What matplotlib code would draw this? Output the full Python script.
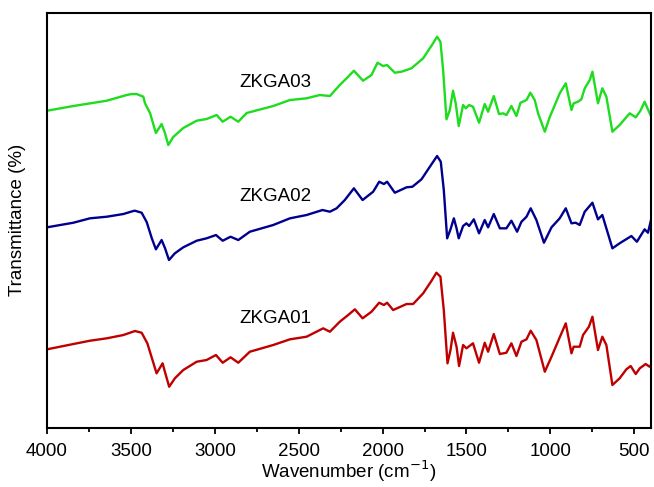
import matplotlib
matplotlib.use("Agg")
import matplotlib.pyplot as plt
from matplotlib.ticker import MultipleLocator

plt.rcParams['font.family'] = ['Liberation Sans', 'DejaVu Sans']

# FTIR spectra (wavenumber in cm^-1, transmittance in offset arbitrary units)
wn_zkga03 = [4000, 3843, 3644, 3525, 3495, 3466, 3426, 3416, 3386, 3351, 3317, 3297,
             3277, 3248, 3188, 3108, 3049, 2989, 2953, 2906, 2860, 2810, 2652, 2552,
             2453, 2374, 2314, 2255, 2205, 2171, 2116, 2066, 2030, 1997, 1973, 1927,
             1887, 1828, 1758, 1699, 1675, 1655, 1639, 1619, 1599, 1580, 1564, 1546,
             1520, 1504, 1484, 1461, 1425, 1391, 1371, 1337, 1306, 1282, 1262, 1232,
             1202, 1178, 1142, 1119, 1093, 1073, 1033, 1004, 944, 908, 874, 861, 835,
             815, 795, 765, 749, 716, 690, 666, 630, 587, 527, 491, 463, 438, 412, 400]
t_zkga03 = [317.3, 322, 327.3, 333, 334, 334, 331.3, 324.7, 315, 295, 304, 295,
            283, 291, 300, 307.3, 309, 313, 306.3, 311.3, 306.3, 315, 322, 328,
            329.7, 333, 332, 343, 351.3, 357.3, 347.3, 353, 365.3, 362, 363, 355.3,
            356.3, 359.7, 369.7, 384.7, 391.3, 386.3, 358, 308.7, 318, 337.3, 324.7, 302,
            323, 319.7, 323, 321.3, 305.3, 324, 316.3, 332, 314, 314.7, 313, 322,
            312, 325.3, 328, 335.3, 328, 314.7, 296.3, 310.7, 334.7, 344.7, 318, 324.7, 326.3,
            328.7, 339.7, 348, 356.3, 324.7, 339.7, 331.3, 296.3, 303, 314.7, 310.7, 317.3,
            326.3, 316.3, 312]

wn_zkga02 = [4000, 3843, 3744, 3644, 3545, 3486, 3476, 3436, 3406, 3376, 3351, 3317,
             3297, 3273, 3238, 3188, 3108, 3049, 2993, 2953, 2906, 2860, 2791, 2652,
             2552, 2453, 2358, 2314, 2274, 2225, 2171, 2119, 2056, 2020, 1992, 1973,
             1927, 1857, 1822, 1768, 1718, 1675, 1653, 1635, 1615, 1595, 1575, 1559,
             1546, 1520, 1500, 1484, 1456, 1425, 1391, 1371, 1337, 1301, 1262, 1232,
             1198, 1172, 1142, 1117, 1083, 1038, 993, 944, 908, 874, 849, 825, 795,
             749, 716, 690, 630, 587, 517, 484, 438, 418, 400]
t_zkga02 = [200.7, 205.3, 209.7, 211.3, 214, 217, 217.3, 215.3, 206, 190, 178.7, 188,
            180, 168, 174.7, 180.7, 187.3, 189.7, 193, 187.3, 191.3, 188, 196.3, 203,
            209.7, 213, 218, 216.3, 219.7, 228, 239.7, 228, 236.3, 246.3, 244, 246.3,
            235.3, 240.7, 241.3, 248.7, 261.3, 272, 266.3, 238, 189.7, 198.7, 209.7, 199.7,
            189.7, 202, 204.7, 202, 208.7, 194.7, 208, 200.7, 214, 199.7, 199.7, 207.3,
            196.3, 206.3, 211.3, 219.7, 208, 185.3, 200.7, 209.7, 219.7, 204.7, 205.3, 203,
            216.3, 225.3, 208.7, 213, 179.7, 184.7, 192, 186.3, 198.7, 195.3, 208]

wn_zkga01 = [4000, 3843, 3744, 3644, 3545, 3476, 3436, 3402, 3347, 3311, 3297, 3272,
             3238, 3188, 3108, 3049, 2993, 2953, 2906, 2860, 2791, 2652, 2552, 2453,
             2354, 2314, 2255, 2205, 2165, 2119, 2066, 2020, 1992, 1973, 1937, 1857,
             1818, 1758, 1708, 1679, 1655, 1635, 1613, 1595, 1580, 1559, 1544, 1520,
             1500, 1461, 1425, 1391, 1371, 1337, 1301, 1262, 1232, 1202, 1172, 1142,
             1117, 1083, 1033, 993, 944, 908, 874, 861, 825, 805, 770, 749, 716, 690,
             666, 630, 587, 547, 521, 491, 467, 432, 408, 400]
t_zkga01 = [78.7, 84, 87.3, 89.7, 93, 97, 95.3, 84.7, 54.7, 64.7, 56, 41.3,
            49.7, 58, 66.3, 68, 73, 65.3, 70.7, 65.3, 76.3, 83, 88.7, 91.3,
            99.7, 96.3, 106.3, 113, 118.7, 109.7, 116.3, 125.3, 123, 125.3, 118, 124,
            124, 134.7, 147.3, 155.3, 151.3, 118, 64.7, 78, 95.3, 81.3, 62, 83,
            79.7, 84.7, 65.3, 85.3, 76.3, 94, 74, 75.3, 84.7, 72, 86.3, 88.7,
            97.3, 88, 56.3, 71.3, 90.7, 104.7, 74.7, 81.3, 81.3, 93, 101.3, 111.3, 78, 91.3,
            83, 43, 49.7, 58.7, 62, 54, 59.7, 64, 61.3, 63]

samples = ["ZKGA01", "ZKGA02", "ZKGA03"]
colors = ["#c00000", "#00008f", "#1edc1e"]

fig = plt.figure(figsize=(6.54, 4.87), dpi=100)
ax = fig.add_axes([0.0719, 0.1211, 0.9235, 0.8532])

series = [(wn_zkga01, t_zkga01), (wn_zkga02, t_zkga02), (wn_zkga03, t_zkga03)]
for (wn, t), name, c in zip(series, samples, colors):
    ax.plot(wn, t, color=c, lw=1.7, solid_joinstyle='round', solid_capstyle='round')

# sample labels placed above each trace
label_pos = [(2640, 110), (2640, 232), (2640, 346)]
for name, (x, y) in zip(samples, label_pos):
    ax.text(x, y, name, fontsize=13.5, ha='center', va='center')

ax.set_xlim(4000, 400)
ax.set_ylim(0, 415.5)
ax.xaxis.set_major_locator(MultipleLocator(500))
ax.xaxis.set_minor_locator(MultipleLocator(250))
ax.set_yticks([])
ax.tick_params(axis='x', which='major', direction='out', length=4.5, width=1.3,
               labelsize=13.5, pad=6)
ax.tick_params(axis='x', which='minor', direction='out', length=3, width=1.3)
for s in ax.spines.values():
    s.set_linewidth(1.5)

ax.set_xlabel("Wavenumber (cm$^{-1}$)", fontsize=13.5)
ax.set_ylabel("Transmittance (%)", fontsize=13.5)
ax.yaxis.set_label_coords(-0.034, 0.5)
ax.xaxis.set_label_coords(0.5, -0.074)

fig.savefig("out.png", dpi=100)
